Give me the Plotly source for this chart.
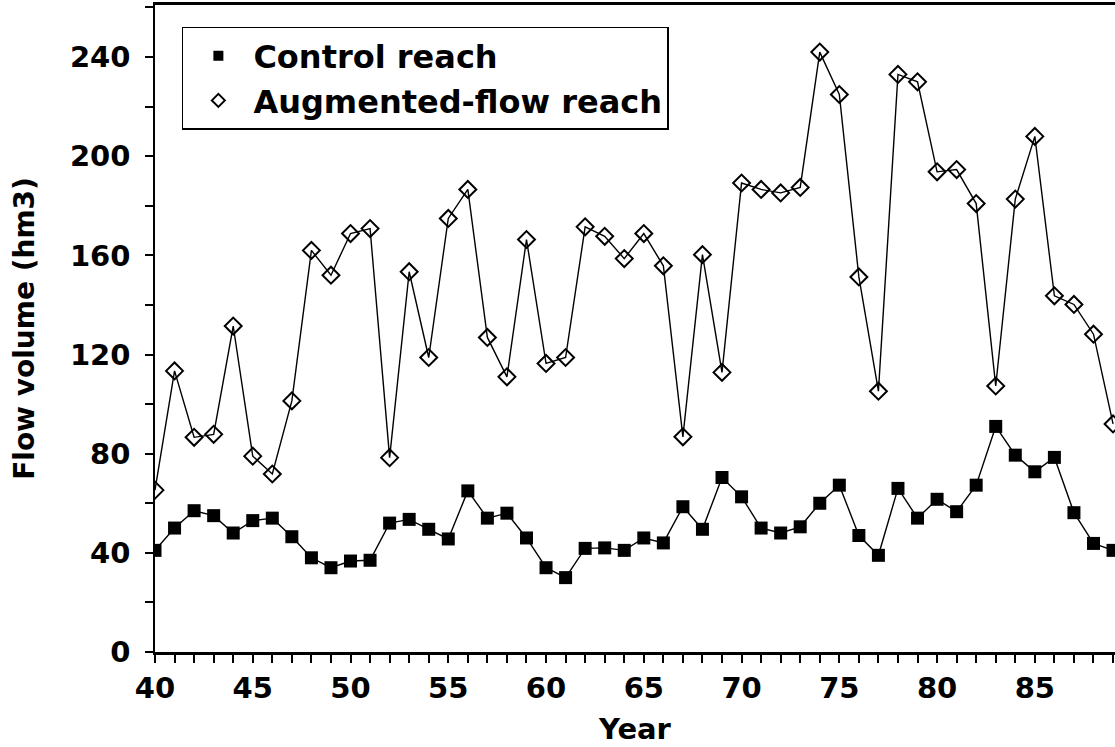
import plotly.graph_objects as go

years = list(range(40, 90))

control = [41, 50, 57, 55, 48, 53, 54, 46.5, 38, 34,
           36.7, 37, 52, 53.5, 49.5, 45.6, 65, 54, 56, 46,
           34, 30, 41.8, 42, 41, 46, 44, 58.6, 49.5, 70.4,
           62.6, 50, 48, 50.5, 60, 67.3, 47, 39, 66, 54,
           61.6, 56.6, 67.3, 91, 79.4, 72.7, 78.5, 56.2, 43.8, 41]

augmented = [65.3, 113.4, 86.6, 87.8, 131.5, 79, 71.8, 101.3, 162, 152,
             168.8, 170.8, 78.4, 153.4, 118.8, 174.9, 186.6, 126.9, 111, 166.4,
             116.4, 118.8, 171.5, 167.7, 158.7, 168.8, 155.8, 86.8, 160.3, 112.8,
             189.2, 186.6, 185.2, 187.4, 242, 224.9, 151.3, 105.2, 233, 230,
             193.7, 194.6, 180.9, 107.3, 182.7, 208, 143.7, 140.2, 128.2, 92]

series_names = ["Control reach", "Augmented-flow reach"]

FONT = "DejaVu Sans"

fig = go.Figure()

fig.add_trace(go.Scatter(
    x=years, y=augmented, mode="lines+markers", showlegend=False,
    line=dict(color="black", width=1.4),
    marker=dict(symbol="diamond-open", size=13, color="black",
                line=dict(color="black", width=2)),
    cliponaxis=True,
))
fig.add_trace(go.Scatter(
    x=years, y=control, mode="lines+markers", showlegend=False,
    line=dict(color="black", width=1.4),
    marker=dict(symbol="square", size=13, color="black",
                line=dict(color="black", width=0)),
    cliponaxis=True,
))

# legend-only entries (marker only, as in the reference)
fig.add_trace(go.Scatter(
    x=[None], y=[None], mode="markers", name=series_names[0],
    marker=dict(symbol="square", size=10, color="black"),
))
fig.add_trace(go.Scatter(
    x=[None], y=[None], mode="markers", name=series_names[1],
    marker=dict(symbol="diamond-open", size=10, color="black",
                line=dict(color="black", width=2)),
))

fig.update_layout(
    width=1115, height=747,
    margin=dict(l=155, r=0, t=5, b=95),
    paper_bgcolor="white", plot_bgcolor="white",
    font=dict(family=FONT, color="black"),
    legend=dict(
        x=0.028, y=0.966, xanchor="left", yanchor="top",
        bgcolor="white", bordercolor="black", borderwidth=1.5,
        font=dict(family=FONT, size=32, color="black", weight="bold"),
        itemwidth=60,
    ),
)

fig.update_xaxes(
    range=[40, 89.1], showgrid=False, zeroline=False,
    showline=True, linecolor="black", linewidth=2.5, mirror=True,
    tickmode="linear", tick0=40, dtick=5,
    ticks="outside", ticklen=8, tickwidth=1.5, tickcolor="black",
    minor=dict(dtick=1, tick0=40, ticks="outside", ticklen=8, tickwidth=1.5, tickcolor="black"),
    tickfont=dict(family=FONT, size=29, color="black", weight="bold"),
    title=dict(text="Year", font=dict(family=FONT, size=29, color="black", weight="bold"), standoff=16),
)

fig.update_yaxes(
    range=[0, 261], showgrid=False, zeroline=False,
    showline=True, linecolor="black", linewidth=1.5,
    tickmode="linear", tick0=0, dtick=40,
    ticks="outside", ticklen=8, tickwidth=1.5, tickcolor="black",
    minor=dict(dtick=20, tick0=0, ticks="outside", ticklen=8, tickwidth=1.5, tickcolor="black"),
    tickfont=dict(family=FONT, size=29, color="black", weight="bold"),
    ticklabelstandoff=9,
    title=dict(text="Flow volume (hm3)", font=dict(family=FONT, size=28, color="black", weight="bold"), standoff=27),
)

fig.write_html(
    "out.html",
    config={"displayModeBar": False},
    post_script="document.body.style.margin='0';document.body.style.overflow='hidden';",
)
